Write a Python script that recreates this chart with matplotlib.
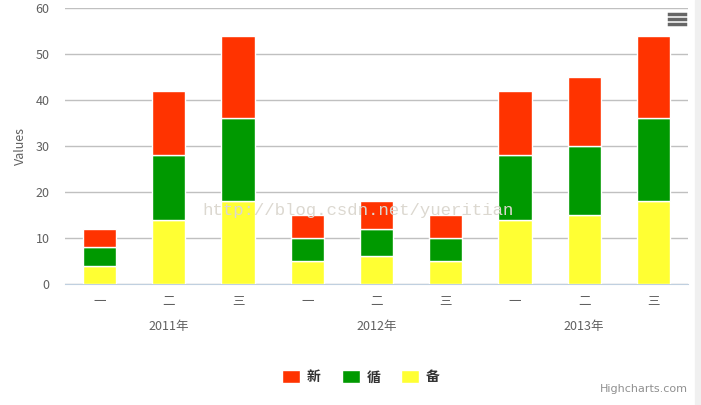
import matplotlib.pyplot as plt
from matplotlib.lines import Line2D
from matplotlib.patches import Rectangle
import numpy as np

plt.rcParams['font.family'] = ['Noto Sans CJK SC', 'DejaVu Sans']

# data
years = ["2011年", "2012年", "2013年"]
quarters = ["一", "二", "三"]
bei = [4, 14, 18, 5, 6, 5, 14, 15, 18]   # yellow, bottom
xun = [4, 14, 18, 5, 6, 5, 14, 15, 18]   # green
xin = [4, 14, 18, 5, 6, 5, 14, 15, 18]   # red, top
series_names = ["新", "循", "备"]
colors = {"新": "#FF3300", "循": "#009900", "备": "#FFFF33"}

fig = plt.figure(figsize=(7.01, 4.05), dpi=100)
ax = fig.add_axes([65 / 701, 121 / 405, 623 / 701, 276 / 405])

x = np.arange(len(bei))
w = 0.48
bei_a = np.array(bei)
xun_a = np.array(xun)
xin_a = np.array(xin)
b1 = ax.bar(x, bei_a, w, color=colors["备"], edgecolor="white", linewidth=1, zorder=3)
b2 = ax.bar(x, xun_a, w, bottom=bei_a, color=colors["循"], edgecolor="white", linewidth=1, zorder=3)
b3 = ax.bar(x, xin_a, w, bottom=bei_a + xun_a, color=colors["新"], edgecolor="white", linewidth=1, zorder=3)

ax.set_xlim(-0.5, len(bei) - 0.5)
ax.set_ylim(0, 60)
ax.set_yticks(range(0, 61, 10))
ax.yaxis.grid(True, color="#C0C0C0", linewidth=1)
ax.set_axisbelow(True)
for s in ["top", "right", "left"]:
    ax.spines[s].set_visible(False)
ax.spines["bottom"].set_color("#C0D0E0")
ax.tick_params(axis="y", length=0, labelsize=9, labelcolor="#606060", pad=11)
ax.tick_params(axis="x", length=0, labelsize=9, labelcolor="#606060", pad=8)
ax.set_xticks(x)
ax.set_xticklabels(quarters * len(years))
ax.set_ylabel("Values", fontsize=9, color="#606060", labelpad=6)

# group labels
for i, yr in enumerate(years):
    ax.text(i * 3 + 1, -9.2, yr, ha="center", va="center", fontsize=9, color="#606060")

# watermark
fig.text(0.51, 0.48, "http://blog.csdn.net/yueritian", fontsize=12.5, color="#DCD8D0",
         family="Liberation Mono", ha="center", va="center")

# legend
leg = fig.legend([b3, b2, b1], series_names, loc="center", bbox_to_anchor=(0.515, 0.068),
                 ncol=3, frameon=False, fontsize=10, handlelength=1.3, handleheight=1.0,
                 columnspacing=1.5, handletextpad=0.5)
for t in leg.get_texts():
    t.set_color("#333333")
    t.set_fontweight("bold")

fig.text(688 / 701, 1 - 389 / 405, "Highcharts.com", ha="right", va="center",
         fontsize=8, color="#909090", family="DejaVu Sans")

# menu icon
for yy in [14, 19, 24]:
    fig.add_artist(Line2D([669 / 701, 685 / 701], [1 - yy / 405] * 2, color="#666666", linewidth=2.5))

# right edge strip
fig.add_artist(Rectangle((695 / 701, 0), 6 / 701, 1, transform=fig.transFigure,
                         color="#F0F0F0", zorder=0))

fig.savefig("out.png", dpi=100)
